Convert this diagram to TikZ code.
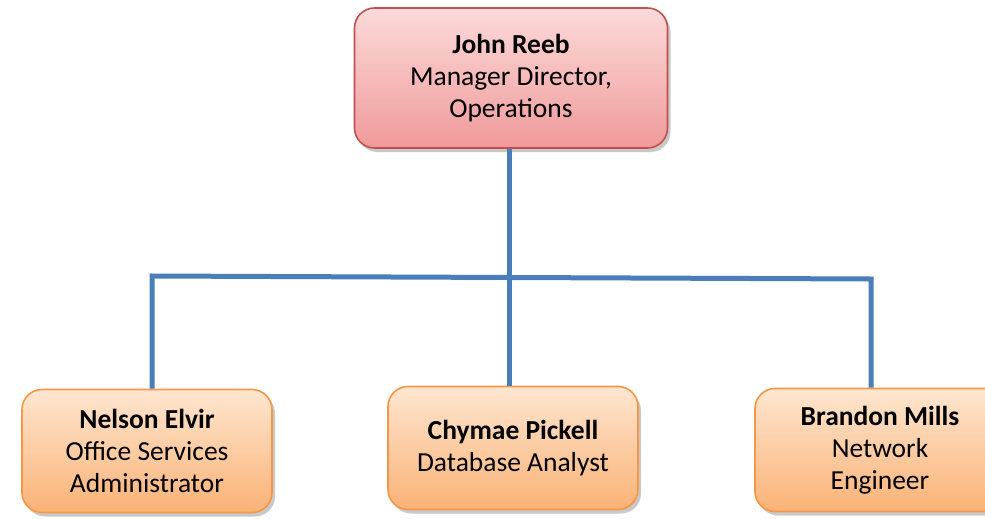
\documentclass[tikz,border=0pt]{standalone}
\usepackage{fontspec}
\setmainfont{Carlito}
\usetikzlibrary{shadows}
\definecolor{lineblue}{HTML}{4A7EBB}
\definecolor{redborder}{HTML}{C0504D}
\definecolor{redtop}{HTML}{FCDADA}
\definecolor{redbot}{HTML}{F09A9A}
\definecolor{orborder}{HTML}{F79646}
\definecolor{ortop}{HTML}{FEE6D0}
\definecolor{orbot}{HTML}{FAB276}
\tikzset{
  x=1pt, y=-1pt,
  box/.style={rounded corners=20pt, line width=1.6pt, align=center,
    font=\fontsize{27.5}{32}\selectfont, inner sep=0pt,
    drop shadow={shadow xshift=3pt, shadow yshift=-4pt, opacity=0.35, fill=black!60}},
  topbox/.style={box, draw=redborder, top color=redtop, bottom color=redbot,
    minimum width=313pt, minimum height=140pt},
  subbox/.style={box, draw=orborder, top color=ortop, bottom color=orbot,
    minimum width=250pt, minimum height=123pt},
  conn/.style={draw=lineblue, line width=5pt}
}
\begin{document}
\begin{tikzpicture}
\useasboundingbox (0,0) rectangle (985,519);
\fill[white] (0,0) rectangle (985,519);
\node[topbox] (boss) at (511,78) {\textbf{John Reeb}\\Manager Director,\\Operations};
\node[subbox] (nelson) at (147,451) {\textbf{Nelson Elvir}\\Office Services\\Administrator};
\node[subbox] (chymae) at (513,448) {\textbf{Chymae Pickell}\\Database Analyst};
\node[subbox] (brandon) at (880,450) {\textbf{Brandon Mills}\\Network\\Engineer};
\coordinate (hl) at (152,276);
\coordinate (hm) at (509,277);
\coordinate (hr) at (871,279);
\draw[conn] (boss.south -| hm) -- (hm |- chymae.north);
\draw[conn, line join=miter] (hl |- nelson.north) -- (hl) -- (hr) -- (hr |- brandon.north);
\end{tikzpicture}
\end{document}
